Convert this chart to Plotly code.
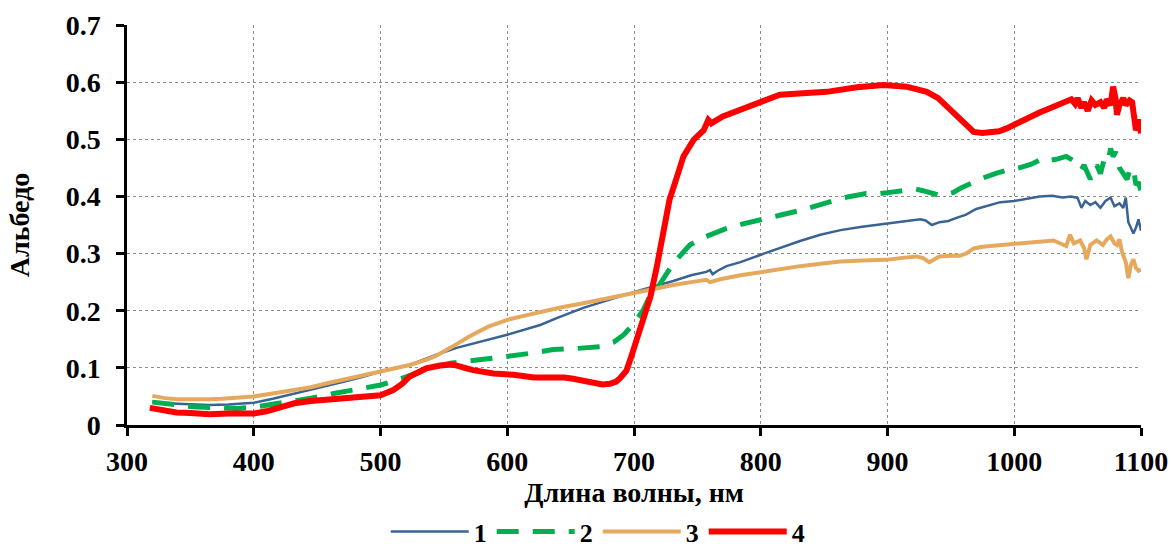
import plotly.graph_objects as go

# Series 1 (blue)
wl1 = [320, 330, 340, 350, 365, 380, 390, 400, 415, 432, 445, 458, 470, 484, 500, 523, 543, 560, 580, 600,
       626, 640, 660, 684, 705, 731, 745, 757, 760, 762, 766, 773, 784, 800, 815, 831, 847, 863, 880, 899,
       915, 926, 930, 935, 941, 948, 955, 962, 970, 980, 989, 1000, 1010, 1020, 1030, 1038, 1045, 1050, 1053,
       1056, 1060, 1064, 1068, 1072, 1076, 1079, 1083, 1086, 1088, 1089, 1090, 1092, 1094, 1096, 1098, 1100]
a1 = [0.041, 0.038, 0.037, 0.036, 0.035, 0.036, 0.037, 0.039, 0.046, 0.055, 0.061, 0.068, 0.075, 0.083, 0.093,
      0.105, 0.122, 0.135, 0.147, 0.158, 0.175, 0.188, 0.205, 0.222, 0.236, 0.252, 0.262, 0.268, 0.271, 0.264,
      0.27, 0.278, 0.285, 0.298, 0.31, 0.322, 0.333, 0.341, 0.347, 0.352, 0.356, 0.36, 0.358, 0.35, 0.355,
      0.357, 0.363, 0.368, 0.378, 0.385, 0.39, 0.392, 0.396, 0.4, 0.401, 0.398, 0.4, 0.397, 0.38, 0.392,
      0.385, 0.39, 0.38, 0.392, 0.398, 0.383, 0.388, 0.38, 0.398, 0.38, 0.355, 0.345, 0.335, 0.345, 0.36, 0.34]

# Series 2 (green, dashed)
wl2 = [320, 335, 352, 370, 387, 400, 413, 426, 445, 463, 480, 500, 515, 531, 543, 555, 567, 585, 600, 620,
       636, 655, 673, 684, 692, 700, 707, 713, 720, 731, 744, 757, 773, 786, 800, 815, 832, 849, 866, 883,
       894, 905, 915, 922, 928, 935, 941, 947, 952, 958, 965, 975, 985, 994, 1004, 1013, 1023, 1028, 1033,
       1041, 1045, 1050, 1053, 1055, 1058, 1060, 1063, 1065, 1068, 1071, 1074, 1076, 1078, 1080, 1083, 1086,
       1089, 1091, 1094, 1096, 1098, 1100]
a2 = [0.04, 0.036, 0.032, 0.03, 0.029, 0.031, 0.035, 0.039, 0.047, 0.055, 0.062, 0.07, 0.08, 0.093, 0.102,
      0.108, 0.111, 0.115, 0.12, 0.126, 0.132, 0.134, 0.137, 0.145, 0.158, 0.178, 0.2, 0.228, 0.245, 0.283,
      0.315, 0.33, 0.344, 0.352, 0.36, 0.367, 0.376, 0.388, 0.398, 0.405, 0.405, 0.408, 0.411, 0.413, 0.41,
      0.405, 0.402, 0.404, 0.407, 0.415, 0.423, 0.432, 0.44, 0.446, 0.45, 0.456, 0.467, 0.463, 0.465, 0.47,
      0.465, 0.458, 0.447, 0.455, 0.44, 0.43, 0.445, 0.455, 0.44, 0.465, 0.46, 0.484, 0.47, 0.478, 0.45,
      0.44, 0.43, 0.445, 0.45, 0.42, 0.425, 0.408]

# Series 3 (orange)
wl3 = [320, 330, 340, 355, 365, 375, 387, 400, 415, 432, 445, 458, 470, 484, 500, 512, 523, 535, 543, 555,
       570, 585, 600, 613, 626, 643, 660, 684, 705, 713, 731, 745, 757, 760, 763, 768, 784, 800, 815, 831,
       847, 863, 880, 899, 910, 923, 928, 933, 937, 941, 950, 957, 962, 968, 975, 989, 1000, 1015, 1025,
       1031, 1036, 1041, 1044, 1047, 1052, 1055, 1057, 1060, 1065, 1070, 1073, 1076, 1079, 1081, 1083, 1085,
       1088, 1090, 1092, 1094, 1096, 1098, 1100]
a3 = [0.051, 0.047, 0.045, 0.044, 0.045, 0.046, 0.048, 0.05, 0.055, 0.061, 0.066, 0.073, 0.079, 0.086, 0.094,
      0.099, 0.105, 0.113, 0.12, 0.135, 0.155, 0.172, 0.184, 0.191, 0.198, 0.206, 0.213, 0.224, 0.233, 0.236,
      0.245, 0.25, 0.254, 0.25, 0.252, 0.255, 0.262, 0.268, 0.273, 0.278, 0.282, 0.286, 0.288, 0.289, 0.292,
      0.295, 0.292, 0.285, 0.29, 0.295, 0.296, 0.296, 0.3, 0.309, 0.312, 0.315, 0.318, 0.321, 0.323, 0.323,
      0.318, 0.313, 0.333, 0.318, 0.323, 0.31, 0.29, 0.315, 0.323, 0.315, 0.325, 0.33, 0.318, 0.315, 0.325,
      0.303, 0.285, 0.257, 0.28, 0.29, 0.275, 0.27, 0.272]

# Series 4 (red)
wl4 = [318, 325, 339, 350, 365, 380, 400, 410, 418, 432, 445, 458, 470, 484, 500, 510, 517, 523, 530, 536,
       547, 557, 565, 573, 589, 605, 621, 636, 645, 652, 660, 668, 675, 681, 686, 689, 694, 697, 702, 707,
       713, 718, 723, 728, 734, 739, 747, 755, 758.6, 761, 770, 784, 800, 815, 830, 852, 876, 897, 915, 931,
       940, 947, 955, 960, 968, 975, 981, 988, 994, 1002, 1010, 1020, 1031, 1036, 1041, 1045, 1048, 1050,
       1053, 1055, 1058, 1061, 1064, 1068, 1071, 1073, 1076, 1078, 1080, 1081, 1083, 1086, 1088, 1091, 1093,
       1095, 1096, 1098, 1099, 1100]
a4 = [0.03, 0.027, 0.022, 0.021, 0.019, 0.02, 0.02, 0.024, 0.029, 0.038, 0.042, 0.044, 0.046, 0.048, 0.052,
      0.061, 0.072, 0.085, 0.093, 0.099, 0.104, 0.106, 0.101, 0.096, 0.09, 0.088, 0.083, 0.084, 0.083, 0.081,
      0.077, 0.073, 0.071, 0.072, 0.076, 0.082, 0.095, 0.114, 0.149, 0.19, 0.225, 0.277, 0.335, 0.394, 0.435,
      0.47, 0.499, 0.516, 0.534, 0.528, 0.54, 0.551, 0.566, 0.578, 0.58, 0.583, 0.591, 0.595, 0.592, 0.583,
      0.572, 0.557, 0.542, 0.531, 0.513, 0.511, 0.512, 0.514, 0.519, 0.528, 0.537, 0.547, 0.557, 0.562,
      0.566, 0.57, 0.562, 0.572, 0.555, 0.565, 0.55, 0.568, 0.56, 0.565, 0.555, 0.57, 0.56, 0.592, 0.57,
      0.543, 0.56, 0.572, 0.56, 0.568, 0.565, 0.53, 0.516, 0.525, 0.535, 0.51]

names = ["1", "2", "3", "4"]
FONT = "Liberation Serif"
FS = 28

fig = go.Figure()
fig.add_trace(go.Scatter(x=wl1, y=a1, mode="lines", name=names[0],
                         line=dict(color="#3A6395", width=2.5)))
fig.add_trace(go.Scatter(x=wl2, y=a2, mode="lines", name=names[1],
                         line=dict(color="#00B050", width=5, dash="22px,14px")))
fig.add_trace(go.Scatter(x=wl3, y=a3, mode="lines", name=names[2],
                         line=dict(color="#E6A85C", width=4)))
fig.add_trace(go.Scatter(x=wl4, y=a4, mode="lines", name=names[3],
                         line=dict(color="#FF0000", width=6)))

fig.update_layout(
    width=1172, height=547,
    margin=dict(l=127, r=31, t=25, b=122, autoexpand=False),
    plot_bgcolor="white", paper_bgcolor="white",
    font=dict(family=FONT, size=FS, color="black"),
    showlegend=True,
    legend=dict(orientation="h", xref="container", yref="container",
                x=0.51, xanchor="center", y=0.028, yanchor="middle",
                font=dict(family=FONT, size=26, color="black", weight="bold"),
                itemwidth=78, tracegroupgap=0),
)
fig.update_xaxes(
    range=[300, 1100], dtick=100, tick0=300,
    showline=True, linecolor="black", linewidth=2.5,
    ticks="outside", ticklen=8, tickwidth=2.5, tickcolor="black",
    showgrid=True, gridcolor="#8c8c8c", griddash="dot", gridwidth=1,
    zeroline=False,
    tickfont=dict(family=FONT, size=FS, weight="bold"),
    ticklabelstandoff=2,
    title=dict(text="Длина волны, нм", font=dict(family=FONT, size=FS, weight="bold"), standoff=5),
)
fig.update_yaxes(
    range=[0, 0.7], dtick=0.1, tick0=0,
    showline=True, linecolor="black", linewidth=2.5,
    ticks="outside", ticklen=8, tickwidth=2.5, tickcolor="black",
    showgrid=True, gridcolor="#8c8c8c", griddash="dot", gridwidth=1,
    zeroline=False,
    tickfont=dict(family=FONT, size=FS, weight="bold"),
    ticklabelstandoff=10,
    title=dict(text="Альбедо", font=dict(family=FONT, size=FS, weight="bold"), standoff=28),
)

fig.write_html("out.html")
